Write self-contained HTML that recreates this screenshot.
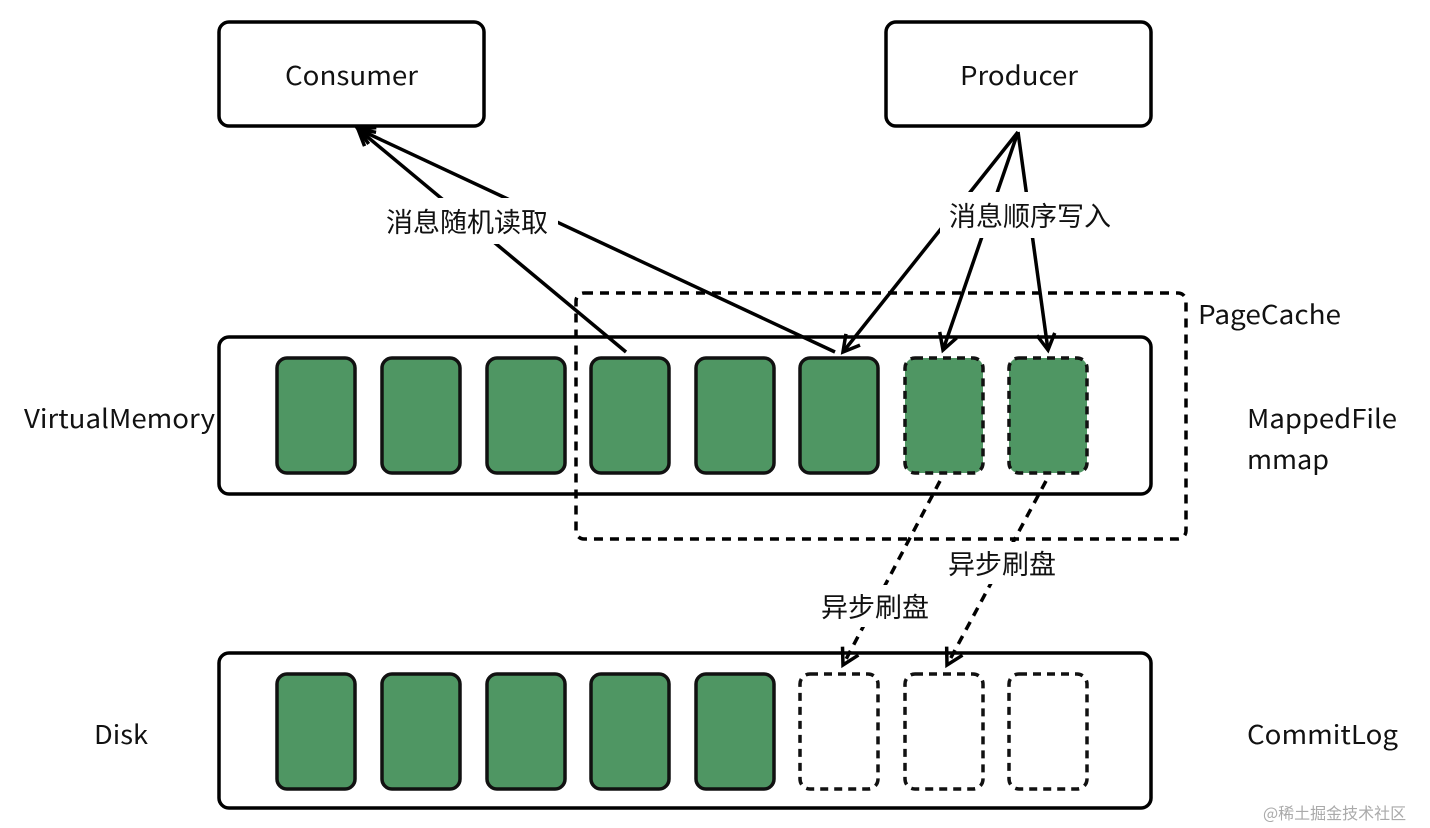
<!DOCTYPE html>
<html><head><meta charset="utf-8"><style>
html,body{margin:0;padding:0;background:#fff;}
svg{display:block;}
text{font-family:"Noto Sans CJK SC","Liberation Sans",sans-serif;font-size:26px;fill:#111;}
.c{font-size:27px;}
</style></head><body>
<svg width="1430" height="828" viewBox="0 0 1430 828" xmlns="http://www.w3.org/2000/svg">
<defs>
<marker id="a" markerWidth="24" markerHeight="24" refX="20" refY="12" orient="auto" markerUnits="userSpaceOnUse">
<path d="M4,3 L20,12 L4,21" fill="none" stroke="#000" stroke-width="3.5"/>
</marker>
</defs>
<g fill="none" stroke="#000" stroke-width="3.5">
<rect x="219" y="22" width="265" height="104" rx="10" fill="#fff"/>
<rect x="886" y="22" width="265" height="104" rx="10" fill="#fff"/>
<rect x="219" y="337" width="932" height="157" rx="10"/>
<rect x="219" y="653" width="932" height="155" rx="10"/>
<rect x="576" y="293" width="610" height="246" rx="8" stroke-dasharray="9,7"/>
</g>
<g fill="#4f9663" stroke="#111" stroke-width="3.5">
<rect x="277" y="358" width="78" height="115" rx="10"/>
<rect x="382" y="358" width="78" height="115" rx="10"/>
<rect x="487" y="358" width="78" height="115" rx="10"/>
<rect x="591" y="358" width="78" height="115" rx="10"/>
<rect x="696" y="358" width="78" height="115" rx="10"/>
<rect x="800" y="358" width="78" height="115" rx="10"/>
<rect x="905" y="358" width="78" height="115" rx="10" stroke-dasharray="8,6"/>
<rect x="1009" y="358" width="78" height="115" rx="10" stroke-dasharray="8,6"/>
<rect x="277" y="674" width="78" height="115" rx="10"/>
<rect x="382" y="674" width="78" height="115" rx="10"/>
<rect x="487" y="674" width="78" height="115" rx="10"/>
<rect x="591" y="674" width="78" height="115" rx="10"/>
<rect x="696" y="674" width="78" height="115" rx="10"/>
<rect x="800" y="674" width="78" height="115" rx="10" fill="#fff" stroke-dasharray="8,6"/>
<rect x="905" y="674" width="78" height="115" rx="10" fill="#fff" stroke-dasharray="8,6"/>
<rect x="1009" y="674" width="78" height="115" rx="10" fill="#fff" stroke-dasharray="8,6"/>
</g>
<g stroke="#000" stroke-width="3.5" fill="none">
<line x1="626" y1="352" x2="358" y2="129" marker-end="url(#a)"/>
<line x1="835" y1="352" x2="358" y2="129" marker-end="url(#a)"/>
<line x1="1018" y1="132" x2="843" y2="352" marker-end="url(#a)"/>
<line x1="1018" y1="132" x2="943" y2="350" marker-end="url(#a)"/>
<line x1="1018" y1="132" x2="1048" y2="350" marker-end="url(#a)"/>
<line x1="940" y1="481" x2="843" y2="665" stroke-dasharray="9,7" marker-end="url(#a)"/>
<line x1="1046" y1="481" x2="947" y2="665" stroke-dasharray="9,7" marker-end="url(#a)"/>
</g>
<g fill="#fff">
<rect x="376" y="198" width="182" height="46"/>
<rect x="940" y="192" width="182" height="46"/>
<rect x="942" y="542" width="120" height="42"/>
<rect x="815" y="585" width="120" height="42"/>
</g>
<text class="c" x="467" y="232" text-anchor="middle">消息随机读取</text>
<text class="c" x="1030" y="226" text-anchor="middle">消息顺序写入</text>
<text class="c" x="1002" y="574" text-anchor="middle">异步刷盘</text>
<text class="c" x="875" y="617" text-anchor="middle">异步刷盘</text>
<text x="285" y="85" textLength="133" lengthAdjust="spacingAndGlyphs">Consumer</text>
<text x="960" y="85" textLength="118" lengthAdjust="spacingAndGlyphs">Producer</text>
<text x="1198" y="324" textLength="143" lengthAdjust="spacingAndGlyphs">PageCache</text>
<text x="24" y="428" textLength="191" lengthAdjust="spacingAndGlyphs">VirtualMemory</text>
<text x="1247" y="428" textLength="150" lengthAdjust="spacingAndGlyphs">MappedFile</text>
<text x="1247" y="469" textLength="82" lengthAdjust="spacingAndGlyphs">mmap</text>
<text x="94" y="744" textLength="54" lengthAdjust="spacingAndGlyphs">Disk</text>
<text x="1247" y="744" textLength="151" lengthAdjust="spacingAndGlyphs">CommitLog</text>
<text x="1263" y="819" style="font-size:16px;fill:#aaa">@稀土掘金技术社区</text>
</svg>
</body></html>
